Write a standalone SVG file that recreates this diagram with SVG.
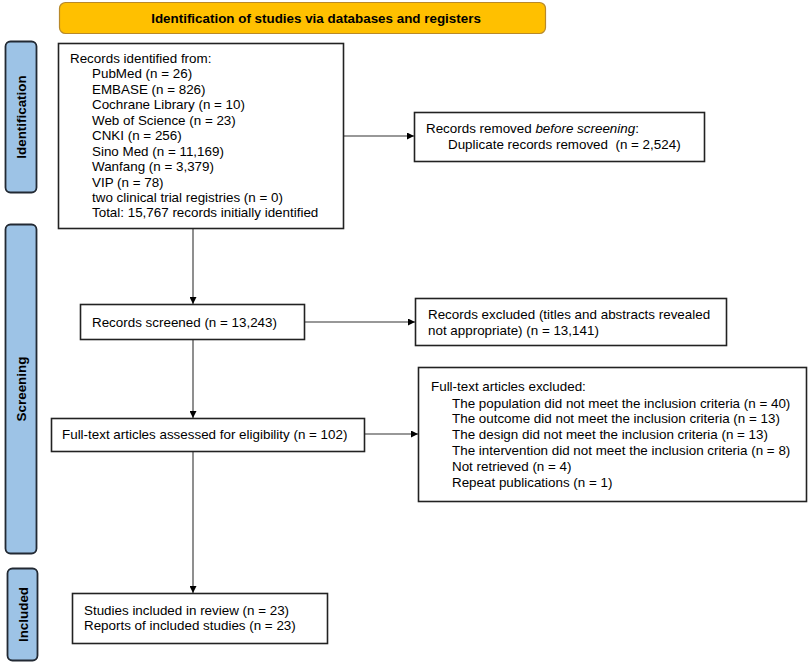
<svg xmlns="http://www.w3.org/2000/svg" width="809" height="664" viewBox="0 0 809 664">
<defs>
<marker id="arr" viewBox="0 0 10 10" refX="10" refY="5" markerWidth="7" markerHeight="7" markerUnits="userSpaceOnUse" orient="auto">
<path d="M0,0 L10,5 L0,10 z" fill="#000"/>
</marker>
</defs>
<style>
text{font-family:"Liberation Sans",Arial,sans-serif;font-size:13.4px;fill:#000}
.box{fill:#fff;stroke:#222;stroke-width:1.6}
.side{fill:#9DC3E6;stroke:#222933;stroke-width:1.8}
.sl{font-weight:bold;font-size:13.4px;text-anchor:middle}
.ban{fill:#FFC000;stroke:#B8892A;stroke-width:1.2}
.con{stroke:#333;stroke-width:1.1;fill:none;marker-end:url(#arr)}
</style>
<rect width="809" height="664" fill="#fff"/>
<g id="banner">
<rect class="ban" x="59.5" y="2.5" width="486" height="31" rx="6"/>
<text x="316" y="22.5" text-anchor="middle" font-weight="bold">Identification of studies via databases and registers</text>
</g>
<g id="side-identification">
<rect class="side" x="5.5" y="41.5" width="31" height="151" rx="5"/>
<text class="sl" transform="translate(26,117) rotate(-90)">Identification</text>
</g>
<g id="side-screening">
<rect class="side" x="5.5" y="224.5" width="31" height="329" rx="5"/>
<text class="sl" transform="translate(26,389) rotate(-90)">Screening</text>
</g>
<g id="side-included">
<rect class="side" x="7.5" y="568.5" width="30" height="92" rx="5"/>
<text class="sl" transform="translate(27.5,614.5) rotate(-90)">Included</text>
</g>
<g id="connectors">
<line class="con" x1="343" y1="136" x2="414" y2="136"/>
<line class="con" x1="193" y1="229" x2="193" y2="304"/>
<line class="con" x1="304" y1="322" x2="415" y2="322"/>
<line class="con" x1="193" y1="339" x2="193" y2="418"/>
<line class="con" x1="364" y1="434" x2="418" y2="434"/>
<line class="con" x1="193" y1="451" x2="193" y2="593"/>
</g>
<g id="records-identified">
<rect class="box" x="58.5" y="43.5" width="285" height="185"/>
<text x="70" y="63">Records identified from:</text>
<text x="92" y="78">PubMed (n = 26)</text>
<text x="92" y="93.5">EMBASE (n = 826)</text>
<text x="92" y="109">Cochrane Library (n = 10)</text>
<text x="92" y="124.5">Web of Science (n = 23)</text>
<text x="92" y="140">CNKI (n = 256)</text>
<text x="92" y="155.5">Sino Med (n = 11,169)</text>
<text x="92" y="171">Wanfang (n = 3,379)</text>
<text x="92" y="186.5">VIP (n = 78)</text>
<text x="92" y="202">two clinical trial registries (n = 0)</text>
<text x="92" y="217">Total: 15,767 records initially identified</text>
</g>
<g id="records-removed">
<rect class="box" x="414.5" y="112.5" width="290" height="49"/>
<text x="426" y="133">Records removed <tspan font-style="italic">before screening</tspan>:</text>
<text x="448" y="149" xml:space="preserve">Duplicate records removed  (n = 2,524)</text>
</g>
<g id="records-screened">
<rect class="box" x="80.5" y="304.5" width="224" height="35"/>
<text x="92" y="327">Records screened (n = 13,243)</text>
</g>
<g id="records-excluded">
<rect class="box" x="415.5" y="298.5" width="311" height="47"/>
<text x="428" y="319">Records excluded (titles and abstracts revealed</text>
<text x="428" y="335">not appropriate) (n = 13,141)</text>
</g>
<g id="fulltext-assessed">
<rect class="box" x="51.5" y="418.5" width="313" height="33"/>
<text x="62" y="439">Full-text articles assessed for eligibility (n = 102)</text>
</g>
<g id="fulltext-excluded">
<rect class="box" x="418.5" y="367.5" width="388" height="134"/>
<text x="431" y="391">Full-text articles excluded:</text>
<text x="452" y="407.5">The population did not meet the inclusion criteria (n = 40)</text>
<text x="452" y="423">The outcome did not meet the inclusion criteria (n = 13)</text>
<text x="452" y="439">The design did not meet the inclusion criteria (n = 13)</text>
<text x="452" y="455">The intervention did not meet the inclusion criteria (n = 8)</text>
<text x="452" y="471">Not retrieved (n = 4)</text>
<text x="452" y="487">Repeat publications (n = 1)</text>
</g>
<g id="included">
<rect class="box" x="72.5" y="593.5" width="255" height="50"/>
<text x="84" y="615">Studies included in review (n = 23)</text>
<text x="84" y="630">Reports of included studies (n = 23)</text>
</g>
</svg>
